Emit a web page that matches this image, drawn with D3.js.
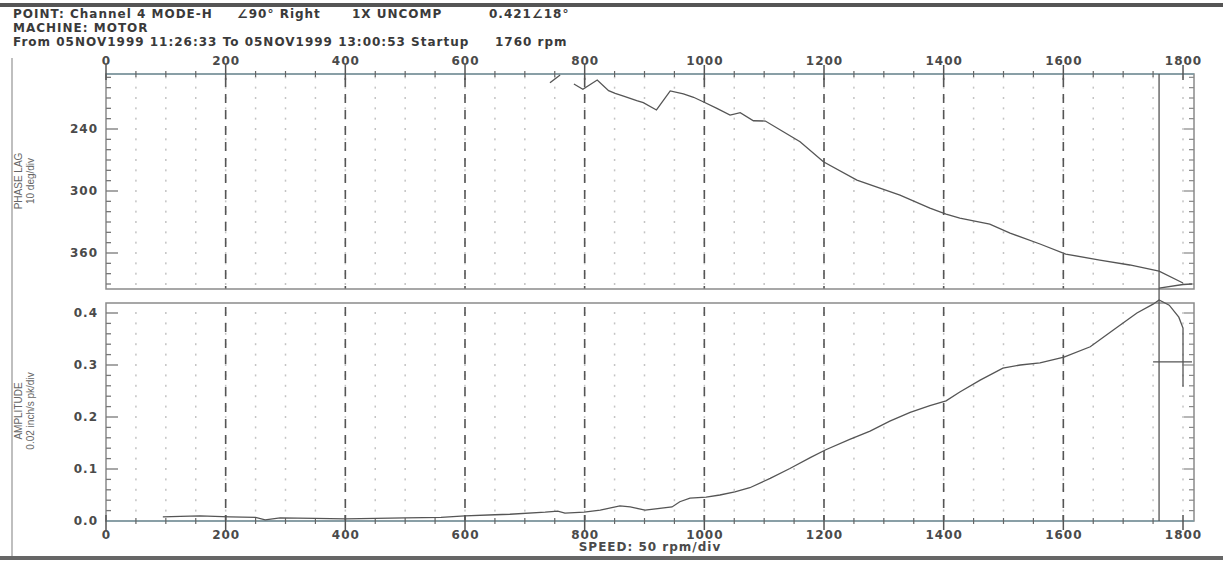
<!DOCTYPE html>
<html><head><meta charset="utf-8">
<script src="https://cdn.jsdelivr.net/npm/d3@7"></script>
<style>
html,body{margin:0;padding:0;background:#fff;}
svg{display:block;}
.hdr{font-family:"DejaVu Sans",sans-serif;font-weight:bold;font-size:12px;fill:#3a3a3a;letter-spacing:1px;}
.tk{font-family:"DejaVu Sans",sans-serif;font-weight:bold;font-size:12px;fill:#4a4a4a;letter-spacing:1px;}
.ttl{font-family:"Liberation Sans Narrow","Liberation Sans",sans-serif;font-size:10px;fill:#666;}
</style></head>
<body>
<svg id="c" width="1223" height="562"></svg>
<script>
// ---- data ----
const speedTicks = [0, 200, 400, 600, 800, 1000, 1200, 1400, 1600, 1800];
const phaseTicks = [240, 300, 360];
const ampTicks = [0.0, 0.1, 0.2, 0.3, 0.4];

const phaseRpm = [782, 797, 821, 840, 851, 865, 887, 898, 920, 943, 965, 982, 998, 1021, 1043, 1060, 1082, 1102, 1132, 1160, 1199, 1255, 1327, 1377, 1404, 1427, 1477, 1511, 1561, 1604, 1661, 1711, 1760, 1800];
const phaseLag = [196.5, 201.6, 192.6, 202.9, 205.5, 208.1, 212.6, 214.5, 221.6, 203.2, 206.1, 209.3, 213.6, 220.0, 226.5, 224.2, 232.0, 232.3, 242.6, 252.3, 271.7, 289.4, 303.9, 316.5, 322.3, 326.2, 332.0, 340.7, 351.3, 361.0, 366.8, 371.6, 377.5, 389.0];
const phaseWrapRpm = [742, 759];
const phaseWrapLag = [195.2, 187.7];

const ampRpm = [95, 124, 157, 207, 250, 266, 291, 350, 400, 450, 500, 560, 600, 650, 675, 734, 755, 767, 799, 826, 859, 876, 901, 946, 959, 976, 1003, 1026, 1051, 1076, 1110, 1143, 1177, 1203, 1243, 1277, 1310, 1344, 1377, 1404, 1427, 1461, 1499, 1528, 1561, 1601, 1645, 1683, 1723, 1750, 1760, 1777, 1793, 1800, 1800];
const amp = [0.008, 0.009, 0.010, 0.008, 0.007, 0.002, 0.006, 0.005, 0.004, 0.005, 0.006, 0.007, 0.010, 0.012, 0.013, 0.017, 0.019, 0.015, 0.017, 0.021, 0.029, 0.027, 0.021, 0.027, 0.037, 0.044, 0.046, 0.050, 0.056, 0.064, 0.082, 0.101, 0.122, 0.137, 0.157, 0.173, 0.192, 0.209, 0.222, 0.231, 0.248, 0.271, 0.294, 0.300, 0.304, 0.315, 0.335, 0.367, 0.400, 0.417, 0.425, 0.415, 0.392, 0.371, 0.258];

const cursorRpm = 1760;
const markerAmpRpm = [1750, 1815];
const markerAmp = [0.306, 0.306];
const markerPhaseRpm = [1760, 1800, 1815];
const markerPhase = [394, 390.5, 390];

const headerLines = [
  ["POINT: Channel 4 MODE-H", "\u222090\u00b0 Right", "1X UNCOMP", "0.421\u222018\u00b0"],
  ["MACHINE: MOTOR"],
  ["From 05NOV1999 11:26:33 To 05NOV1999 13:00:53 Startup", "1760 rpm"]
];

// ---- layout ----
const svg = d3.select("#c");
const L = 106, R = 1194;
const x = d3.scaleLinear().domain([0, 1800]).range([106, 1183]);
const top1 = 74, bot1 = 289, top2 = 303, bot2 = 521;
const yP = d3.scaleLinear().domain([240, 360]).range([129, 253]);
const yA = d3.scaleLinear().domain([0, 0.4]).range([521, 313]);

// frame bars
svg.append("rect").attr("x",0).attr("y",3).attr("width",1223).attr("height",4).attr("fill","#555");
svg.append("rect").attr("x",0).attr("y",556).attr("width",1223).attr("height",4).attr("fill","#666");
svg.append("line").attr("x1",12).attr("x2",12).attr("y1",58).attr("y2",556).attr("stroke","#aaa").attr("stroke-width",1.5);

// header
const hx = [[13, 237, 352, 489],[13],[13, 495]];
headerLines.forEach((ln,i)=>{
  ln.forEach((t,j)=>{
    svg.append("text").attr("class","hdr").attr("x",hx[i][j]).attr("y",18+i*14).text(t);
  });
});

function panel(y, y0, y1, minorStep, domainMin, domainMax, majorVals, fmt) {
  const g = svg.append("g");
  const minors = d3.range(Math.ceil(domainMin/minorStep)*minorStep, domainMax+1e-9, minorStep);
  const xs50 = d3.range(50, 1801, 50);
  xs50.forEach(v=>{
    minors.forEach(m=>{
      const py = y(m);
      if (py > Math.min(y0,y1)+3 && py < Math.max(y0,y1)-3)
        g.append("rect").attr("x",x(v)-0.75).attr("y",py-1).attr("width",1.5).attr("height",2).attr("fill","#c4c4c4");
    });
  });
  speedTicks.filter(v=>v>0 && v<1800).forEach(v=>{
    g.append("line").attr("x1",x(v)).attr("x2",x(v)).attr("y1",Math.min(y0,y1)+4).attr("y2",Math.max(y0,y1))
      .attr("stroke","#555").attr("stroke-width",1.6).attr("stroke-dasharray","9,7");
  });
  g.append("rect").attr("x",L).attr("y",Math.min(y0,y1)).attr("width",R-L).attr("height",Math.abs(y1-y0))
    .attr("fill","none").attr("stroke","#8a8a8a").attr("stroke-width",1.5);
  minors.forEach(m=>{
    const py = y(m);
    if (py < Math.min(y0,y1)+2 || py > Math.max(y0,y1)-1) return;
    const isMaj = majorVals.some(v=>Math.abs(v-m)<1e-9);
    g.append("line").attr("x1",L).attr("x2",L+(isMaj?12:5)).attr("y1",py).attr("y2",py).attr("stroke","#777").attr("stroke-width",1.3);
    g.append("line").attr("x1",R).attr("x2",R-(isMaj?10:5)).attr("y1",py).attr("y2",py).attr("stroke","#888").attr("stroke-width",1.2);
  });
  majorVals.forEach(v=>{
    g.append("text").attr("class","tk").attr("x",98).attr("y",y(v)+4).attr("text-anchor","end").text(fmt(v));
  });
  return g;
}

panel(yP, top1, bot1, 10, yP.invert(top1), yP.invert(bot1), phaseTicks, d=>d3.format("d")(d));
panel(yA, bot2, top2, 0.02, 0, yA.invert(top2), ampTicks, d=>d3.format(".1f")(d));

function speedAxis(yy, labelDy) {
  const g = svg.append("g");
  g.append("line").attr("x1",L).attr("x2",R).attr("y1",yy).attr("y2",yy).attr("stroke","#7f9ca6").attr("stroke-width",1.6);
  d3.range(50, 1801, 50).forEach(v=>{
    if (speedTicks.includes(v)) return;
    g.append("line").attr("x1",x(v)).attr("x2",x(v)).attr("y1",yy-3).attr("y2",yy+3).attr("stroke","#666").attr("stroke-width",1.2);
  });
  speedTicks.forEach(v=>{
    g.append("line").attr("x1",x(v)).attr("x2",x(v)).attr("y1",yy-(labelDy<0?9:6)).attr("y2",yy+(labelDy<0?6:9)).attr("stroke","#555").attr("stroke-width",1.5);
    g.append("text").attr("class","tk").attr("x",x(v)+0.5).attr("y",yy+labelDy).attr("text-anchor","middle").text(v);
  });
}
speedAxis(top1, -9);
speedAxis(bot2, 18);

svg.append("line").attr("x1",x(cursorRpm)).attr("x2",x(cursorRpm)).attr("y1",top1).attr("y2",bot2)
  .attr("stroke","#555").attr("stroke-width",1.3);

const lineP = d3.line().x(d=>x(d[0])).y(d=>yP(d[1]));
const lineA = d3.line().x(d=>x(d[0])).y(d=>yA(d[1]));
function path(d, gen){ return svg.append("path").attr("d", gen(d)).attr("fill","none").attr("stroke","#555").attr("stroke-width",1.3); }
path(d3.zip(phaseRpm, phaseLag), lineP);
path(d3.zip(phaseWrapRpm, phaseWrapLag), lineP);
path(d3.zip(markerPhaseRpm, markerPhase), lineP);
path(d3.zip(ampRpm, amp), lineA);
path(d3.zip(markerAmpRpm, markerAmp), lineA);

function vtitle(cx, cy, lines) {
  const g = svg.append("g").attr("transform",`translate(${cx},${cy}) rotate(-90)`);
  lines.forEach((t,i)=>g.append("text").attr("class","ttl").attr("x",0).attr("y",i*12).attr("text-anchor","middle").text(t));
}
vtitle(22, 181, ["PHASE LAG", "10 deg/div"]);
vtitle(22, 411, ["AMPLITUDE", "0.02 inch/s pk/div"]);
svg.append("text").attr("class","tk").attr("x",650).attr("y",551).attr("text-anchor","middle").text("SPEED: 50 rpm/div");
</script>
</body></html>
